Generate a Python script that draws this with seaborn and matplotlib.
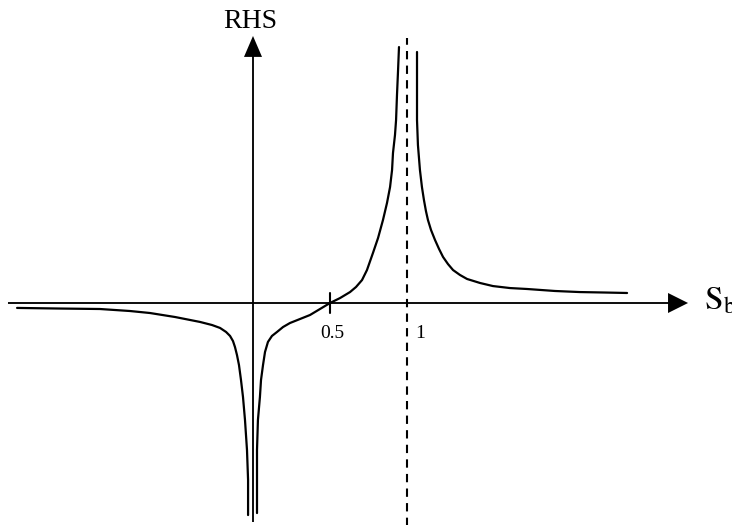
import matplotlib
matplotlib.use("Agg")
import matplotlib.pyplot as plt
import seaborn as sns

# curve, in axis units (0.5 and 1 are the ticks)
left_x = [-1.532, -1.253, -0.994, -0.799, -0.669, -0.506, -0.344, -0.266, -0.214, -0.175, -0.149,
          -0.130, -0.117, -0.104, -0.091, -0.078, -0.065, -0.052, -0.039, -0.032, -0.032]
left_y = [-0.032, -0.036, -0.039, -0.052, -0.065, -0.091, -0.123, -0.143, -0.162, -0.188, -0.214,
          -0.247, -0.286, -0.338, -0.403, -0.500, -0.610, -0.760, -0.955, -1.149, -1.377]

mid_x = [0.026, 0.026, 0.026, 0.032, 0.045, 0.052, 0.065, 0.078, 0.097, 0.123, 0.156, 0.195,
         0.240, 0.305, 0.370, 0.435, 0.500, 0.565, 0.630, 0.669, 0.708, 0.740, 0.779, 0.812,
         0.844, 0.870, 0.890, 0.903, 0.909, 0.922, 0.929, 0.935, 0.942, 0.948]
mid_y = [-1.364, -1.149, -0.955, -0.760, -0.610, -0.500, -0.403, -0.318, -0.253, -0.214, -0.188, -0.156,
         -0.130, -0.104, -0.078, -0.039, 0.000, 0.032, 0.071, 0.104, 0.149, 0.214, 0.325, 0.422,
         0.539, 0.649, 0.753, 0.864, 0.974, 1.091, 1.188, 1.351, 1.513, 1.662]

right_x = [1.065, 1.065, 1.065, 1.071, 1.084, 1.097, 1.110, 1.123, 1.136, 1.156, 1.182, 1.208, 1.234,
           1.266, 1.299, 1.344, 1.390, 1.474, 1.558, 1.669, 1.779, 1.961, 2.123, 2.286, 2.429]
right_y = [1.630, 1.416, 1.188, 1.026, 0.864, 0.753, 0.669, 0.597, 0.539, 0.474, 0.409, 0.351, 0.299,
           0.253, 0.214, 0.182, 0.156, 0.130, 0.110, 0.097, 0.091, 0.078, 0.071, 0.068, 0.065]

tick_vals = [0.5, 1]
tick_labels = ["0.5", "1"]
asymptote = 1.0

sns.set_style("white")
plt.rcParams["font.family"] = ["Liberation Serif", "DejaVu Serif"]
plt.rcParams["mathtext.fontset"] = "stix"
plt.rcParams["text.color"] = "black"

fig = plt.figure(figsize=(7.32, 5.25), dpi=100)
ax = fig.add_axes([0, 0, 1, 1])
ax.set_xlim(-253 / 154, 479 / 154)
ax.set_ylim(-222 / 154, 303 / 154)
ax.axis("off")

# hand-drawn style axes with arrow heads
ax.arrow(-1.591, 0, 4.416, 0, width=0.012, head_width=0.13, head_length=0.13,
         length_includes_head=True, fc="black", ec="black", lw=0)
ax.arrow(0, -1.422, 0, 3.156, width=0.012, head_width=0.117, head_length=0.136,
         length_includes_head=True, fc="black", ec="black", lw=0)

# vertical asymptote
ax.plot([asymptote, asymptote], [-1.45, 1.721], color="black", lw=1.5,
        linestyle=(0, (4, 3)))

for xs, ys in [(left_x, left_y), (mid_x, mid_y), (right_x, right_y)]:
    sns.lineplot(x=xs, y=ys, sort=False, estimator=None, color="black", lw=1.6,
                 solid_joinstyle="round", ax=ax)

# tick mark at 0.5 and the labels
ax.plot([tick_vals[0], tick_vals[0]], [-0.065, 0.065], color="black", lw=1.5)
ax.text(tick_vals[0] + 0.013, -0.195, tick_labels[0], ha="center", va="center", fontsize=14)
ax.text(tick_vals[1] + 0.084, -0.195, tick_labels[1], ha="center", va="center", fontsize=14)

ax.text(-0.019, 1.831, "RHS", ha="center", va="center", fontsize=20)
ax.text(2.93, -0.045, r"$\mathrm{S}_\mathrm{b}$", ha="left", va="baseline", fontsize=24)

fig.savefig("out.png", dpi=100)
